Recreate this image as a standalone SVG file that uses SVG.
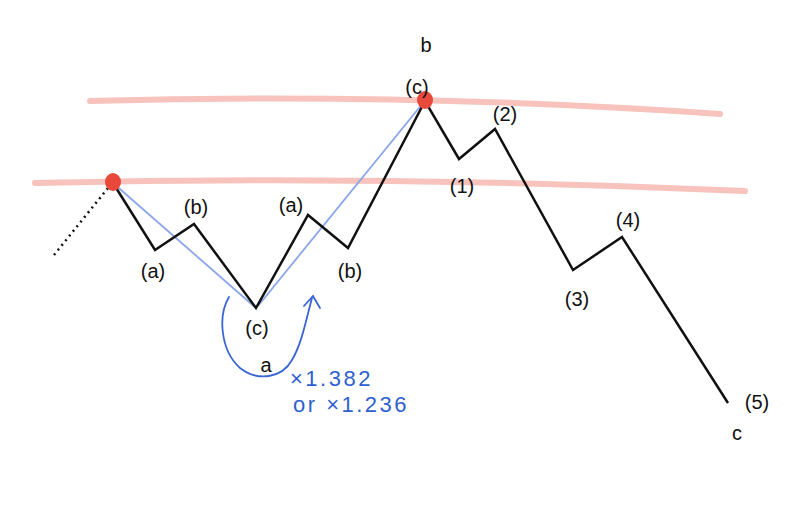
<svg xmlns="http://www.w3.org/2000/svg" width="800" height="505" viewBox="0 0 800 505">
<style>
.lbl{font-family:"Liberation Sans",Arial,sans-serif;font-size:20px;fill:#111;text-anchor:middle}
.hand{font-family:"Liberation Sans",Arial,sans-serif;font-size:22px;fill:#2f5fd0;letter-spacing:2.5px}
.band{fill:none;stroke:#f3a9a0;stroke-width:6;stroke-linecap:round;opacity:0.7}
.wave{fill:none;stroke:#111;stroke-width:2.5;stroke-linejoin:miter}
.blue{fill:none;stroke:#8aa6e8;stroke-width:1.8}
.arc{fill:none;stroke:#3a66d4;stroke-width:1.8;stroke-linecap:round}
.dot{fill:#e8493a}
</style>
<rect width="800" height="505" fill="#fff"/>
<g id="bands">
<path class="band" d="M90,101 Q400,92 720,114"/>
<path class="band" d="M35,183 Q390,175 745,191"/>
</g>
<g id="connectors">
<line x1="54" y1="255" x2="108" y2="188" stroke="#111" stroke-width="2.5" stroke-dasharray="2,4"/>
<polyline class="blue" points="113,183 256,308"/>
<polyline class="blue" points="258,306 423,103"/>
<polyline class="wave" points="113,183 155,250 194,224 256,308 308,215 348,248 425,101 459,159 495,129 573,270 622,237 728,403"/>
<path class="arc" d="M229,297 C218,315 220,350 240,368 C258,382 282,378 292,360 C302,343 306,320 312,298"/>
<polyline class="arc" points="304,306 313,296 320,308"/>
</g>
<g id="dot1"><ellipse class="dot" cx="113" cy="182" rx="8" ry="9"/></g>
<g id="dot2"><ellipse class="dot" cx="425" cy="100" rx="8" ry="9"/></g>
<g id="labels">
<text class="lbl" x="153" y="278">(a)</text>
<text class="lbl" x="196" y="214">(b)</text>
<text class="lbl" x="257" y="335">(c)</text>
<text class="lbl" x="266" y="372">a</text>
<text class="lbl" x="291" y="212">(a)</text>
<text class="lbl" x="350" y="278">(b)</text>
<text class="lbl" x="426" y="52">b</text>
<text class="lbl" x="417" y="94">(c)</text>
<text class="lbl" x="462" y="193">(1)</text>
<text class="lbl" x="505" y="121">(2)</text>
<text class="lbl" x="577" y="306">(3)</text>
<text class="lbl" x="628" y="227">(4)</text>
<text class="lbl" x="757" y="409">(5)</text>
<text class="lbl" x="737" y="440">c</text>
</g>
<g id="ratio">
<text class="hand" x="290" y="386">×1.382</text>
<text class="hand" x="293" y="412">or ×1.236</text>
</g>
</svg>
